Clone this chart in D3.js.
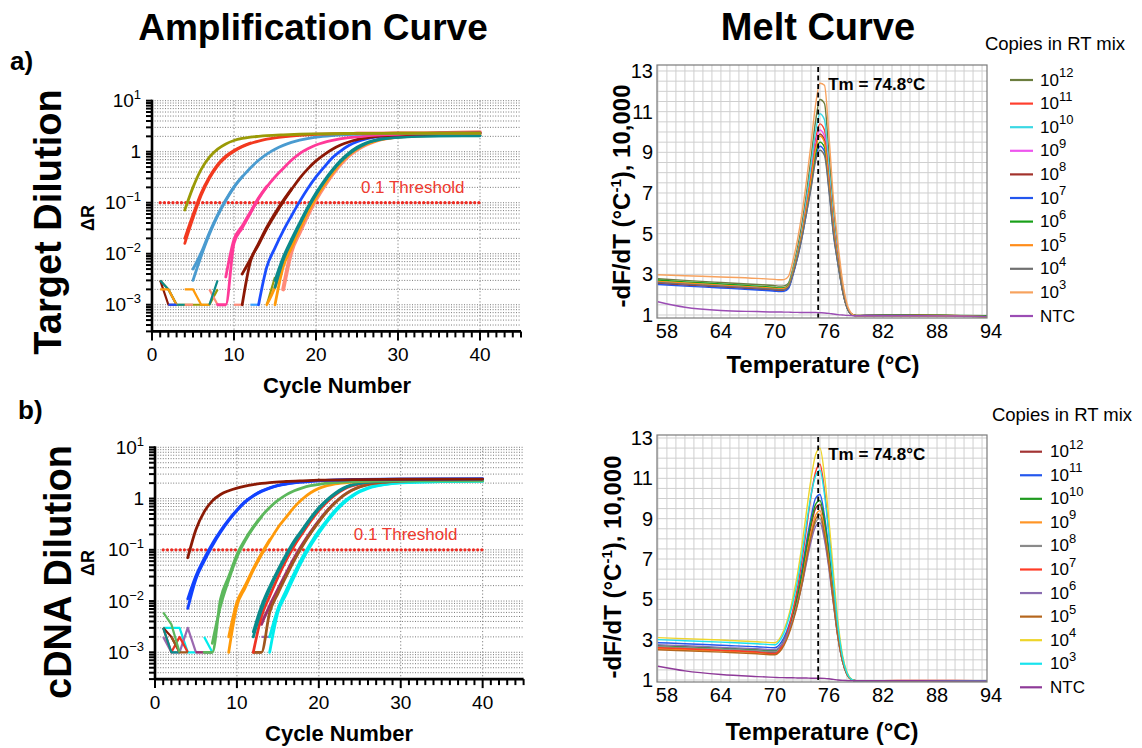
<!DOCTYPE html>
<html><head><meta charset="utf-8">
<script src="https://cdn.jsdelivr.net/npm/d3@7/dist/d3.min.js"></script>
<style>
html,body{margin:0;padding:0;background:#fff;}
svg{display:block;font-family:"Liberation Sans",Arial,Helvetica,sans-serif;}
</style></head>
<body><svg id="fig" width="1142" height="748"></svg>
<script>
// ---------------- data ----------------
const cycleTicks = [0, 10, 20, 30, 40];
const deltaRTicks = [10, 1, 0.1, 0.01, 0.001];
const deltaRTickLabels = [["10", "1"], ["1", ""], ["10", "\u22121"], ["10", "\u22122"], ["10", "\u22123"]];
const thresholdValue = 0.1;
const thresholdLabel = "0.1 Threshold";

// Target dilution amplification curves: [cycle, ΔR]
const targetCurves = [
  [[16,0.002],[17,0.011],[18,0.026],[19,0.057],[20,0.115],[21,0.21],[22,0.36],[23,0.57],[24,0.83],[25,1.1],[26,1.36],[27,1.58],[28,1.76],[30,2.0],[35,2.3],[40,2.4]],
  [[14,0.001],[15,0.0022],[16,0.0065],[17,0.015],[18,0.033],[19,0.07],[20,0.135],[21,0.24],[22,0.4],[23,0.62],[24,0.88],[25,1.15],[26,1.4],[27,1.6],[28,1.76],[30,1.95],[35,2.1],[40,2.12]],
  [[15,0.001],[16,0.0055],[17,0.013],[18,0.03],[19,0.064],[20,0.125],[21,0.225],[22,0.38],[23,0.6],[24,0.86],[25,1.13],[26,1.38],[27,1.58],[28,1.74],[30,1.94],[35,2.12],[40,2.15]],
  [[15,0.003],[16,0.0085],[17,0.019],[18,0.04],[19,0.082],[20,0.155],[21,0.27],[22,0.44],[23,0.67],[24,0.94],[25,1.22],[26,1.46],[27,1.65],[28,1.78],[30,1.93],[35,2.04],[40,2.05]],
  [[15,0.0022],[16,0.0075],[17,0.017],[18,0.037],[19,0.077],[20,0.145],[21,0.255],[22,0.42],[23,0.64],[24,0.9],[25,1.17],[26,1.42],[27,1.62],[28,1.76],[30,1.92],[35,2.05],[40,2.07]],
  [[13,0.001],[14,0.0055],[15,0.013],[16,0.028],[17,0.055],[18,0.105],[19,0.19],[20,0.32],[21,0.5],[22,0.76],[23,1.03],[24,1.32],[25,1.57],[26,1.77],[28,2.03],[30,2.17],[35,2.3],[40,2.33]],
  [[11,0.001],[12,0.007],[13,0.015],[14,0.031],[15,0.058],[16,0.105],[17,0.18],[18,0.3],[19,0.46],[20,0.66],[21,0.88],[22,1.12],[23,1.35],[24,1.55],[25,1.72],[27,1.95],[30,2.13],[35,2.27],[40,2.3]],
  [[11,0.004],[12,0.0078],[13,0.016],[14,0.033],[15,0.062],[16,0.11],[17,0.185]],
  [[8,0.001],[9,0.001],[10,0.016],[11,0.032],[12,0.062],[13,0.12],[14,0.205],[15,0.32],[16,0.47],[17,0.68],[18,0.92],[19,1.14],[20,1.35],[21,1.52],[22,1.66],[24,1.88],[26,2.03],[28,2.13],[30,2.2],[35,2.28],[40,2.3]],
  [[9,0.0035],[10,0.019],[11,0.035],[12,0.066],[13,0.125],[14,0.21]],
  [[5,0.003],[6,0.009],[7,0.024],[8,0.055],[9,0.11],[10,0.2],[11,0.32],[12,0.48],[13,0.68],[14,0.9],[15,1.12],[16,1.33],[17,1.52],[18,1.68],[20,1.93],[22,2.08],[25,2.2],[30,2.28],[40,2.3]],
  [[5,0.005],[6,0.0105],[7,0.026],[8,0.058],[9,0.114],[10,0.205],[11,0.325]],
  [[4,0.016],[5,0.05],[6,0.14],[7,0.3],[8,0.53],[9,0.78],[10,1.02],[11,1.25],[12,1.45],[13,1.62],[14,1.76],[15,1.87],[16,1.96],[18,2.1],[20,2.2],[25,2.3],[30,2.33],[40,2.35]],
  [[4,0.02],[5,0.058],[6,0.155],[7,0.32],[8,0.56],[9,0.82],[10,1.06],[11,1.28],[12,1.48]],
  [[4,0.072],[5,0.2],[6,0.45],[7,0.78],[8,1.12],[9,1.42],[10,1.66],[11,1.82],[12,1.93],[13,2.0],[14,2.06],[16,2.14],[18,2.2],[20,2.24],[25,2.28],[30,2.3],[40,2.3]]
];
const targetCurveColors = ["#ff8b78","#ff9a0a","#ff9a0a","#0b8a8a","#0b8a8a","#1b4dff","#8c1805","#8c1805","#ff3a98","#ff3a98","#4a9bd0","#4a9bd0","#f2391f","#f2391f","#9a9a06"];
const targetNoise = [
  [[1,0.003],[2,0.002],[3,0.001],[4,0.001],[5,0.001],[6,0.001],[7,0.001],[8,0.002]],
  [[1,0.003],[2,0.001],[3,0.001]],
  [[1,0.003],[2,0.002],[3,0.001],[4,0.001]],
  [[1,0.002],[2,0.002],[3,0.001]],
  [[4,0.002],[5,0.002],[6,0.001],[7,0.001]],
  [[2,0.001],[3,0.001]],
  [[4,0.001],[5,0.001]],
  [[7,0.002],[8,0.001]],
  [[7,0.001],[8,0.003]],
  [[10,0.001],[11,0.001]],
  [[12,0.001],[13,0.001]],
  [[14,0.001],[15,0.0035]]
];
const targetNoiseColors = ["#9a9a06","#8c1805","#0b8a8a","#ff9a0a","#ff9a0a","#1b4dff","#ff8b78","#ff8b78","#0b8a8a","#ff8b78","#3aa0ff","#9a9a06"];

// cDNA dilution amplification curves: [cycle, ΔR]
const cdnaCurves = [
  [[14,0.001],[15,0.006],[16,0.0135],[17,0.03],[18,0.063],[19,0.12],[20,0.21],[21,0.35],[22,0.55],[23,0.8],[24,1.08],[25,1.35],[26,1.58],[27,1.75],[28,1.87],[30,2.02],[35,2.15],[40,2.18]],
  [[14,0.002],[15,0.007],[16,0.016],[17,0.035],[18,0.072],[19,0.135],[20,0.235],[21,0.38],[22,0.59],[23,0.85],[24,1.12],[25,1.4],[26,1.62],[27,1.78],[28,1.9],[30,2.04],[35,2.15],[40,2.18]],
  [[13,0.004],[14,0.0075],[15,0.015],[16,0.032],[17,0.065],[18,0.122],[19,0.215],[20,0.36],[21,0.57],[22,0.84],[23,1.15],[24,1.45],[25,1.7],[26,1.88],[28,2.1],[30,2.22],[35,2.32],[40,2.35]],
  [[13,0.0035],[14,0.0082],[15,0.017],[16,0.035],[17,0.07],[18,0.13],[19,0.225],[20,0.37],[21,0.58],[22,0.85]],
  [[12,0.001],[13,0.001],[14,0.006],[15,0.014],[16,0.03],[17,0.062],[18,0.118],[19,0.21],[20,0.35],[21,0.56],[22,0.83],[23,1.14],[24,1.44],[25,1.69],[26,1.87],[28,2.08],[30,2.2],[35,2.3],[40,2.32]],
  [[12,0.001],[13,0.005],[14,0.0125],[15,0.029],[16,0.062],[17,0.12],[18,0.21],[19,0.36],[20,0.58],[21,0.86],[22,1.18],[23,1.5],[24,1.76],[25,1.93],[27,2.12],[30,2.25],[40,2.32]],
  [[12,0.0025],[13,0.008],[14,0.019],[15,0.04],[16,0.08],[17,0.15],[18,0.25],[19,0.42],[20,0.66],[21,0.95],[22,1.28],[23,1.6],[24,1.85],[25,2.0],[27,2.15],[30,2.25],[40,2.3]],
  [[12,0.002],[13,0.0068],[14,0.017],[15,0.037],[16,0.074],[17,0.14],[18,0.235],[19,0.4],[20,0.63],[21,0.92],[22,1.24],[23,1.56],[24,1.82],[25,1.98],[27,2.14],[30,2.25],[40,2.3]],
  [[9,0.001],[10,0.008],[11,0.018],[12,0.04],[13,0.08],[14,0.15],[15,0.27],[16,0.43],[17,0.68],[18,0.98],[19,1.3],[20,1.58],[21,1.78],[22,1.93],[24,2.1],[26,2.2],[30,2.28],[40,2.3]],
  [[9,0.002],[10,0.0095],[11,0.02],[12,0.043],[13,0.085],[14,0.158]],
  [[6,0.001],[7,0.001],[8,0.011],[9,0.03],[10,0.08],[11,0.16],[12,0.28],[13,0.45],[14,0.67],[15,0.92],[16,1.18],[17,1.42],[18,1.62],[19,1.78],[20,1.9],[22,2.05],[25,2.17],[30,2.22],[40,2.22]],
  [[7,0.0015],[8,0.008],[9,0.026],[10,0.072],[11,0.15],[12,0.27],[13,0.44]],
  [[4,0.0072],[5,0.027],[6,0.06],[7,0.12],[8,0.22],[9,0.37],[10,0.58],[11,0.85],[12,1.12],[13,1.38],[14,1.6],[15,1.78],[16,1.92],[18,2.1],[20,2.22],[25,2.35],[30,2.4],[40,2.42]],
  [[4,0.011],[5,0.031],[6,0.067],[7,0.132],[8,0.235],[9,0.39],[10,0.6],[11,0.87],[12,1.14],[13,1.4],[14,1.62],[15,1.8],[16,1.94],[18,2.12],[20,2.24],[25,2.36],[30,2.4],[40,2.42]],
  [[4,0.07],[5,0.25],[6,0.55],[7,0.9],[8,1.2],[9,1.42],[10,1.6],[11,1.75],[12,1.87],[13,1.97],[14,2.05],[16,2.15],[18,2.22],[20,2.28],[25,2.35],[30,2.38],[40,2.4]]
];
const cdnaCurveColors = ["#00eded","#00eded","#9b69b0","#a0306a","#a0561e","#ef3324","#0a8b8b","#0a8b8b","#ff9a0a","#ff9a0a","#5cb85c","#5cb85c","#1242ff","#1242ff","#8b1a05"];
const cdnaNoise = [
  [[1,0.003],[2,0.003],[3,0.003],[4,0.001],[5,0.001]],
  [[1,0.002],[2,0.001],[3,0.001],[4,0.003],[5,0.001],[6,0.001],[7,0.001]],
  [[1,0.003],[2,0.001],[3,0.002],[4,0.001]],
  [[1,0.003],[2,0.002],[3,0.001]],
  [[1,0.003],[2,0.001],[3,0.001]],
  [[2,0.002],[3,0.001],[4,0.001]],
  [[1,0.006],[2,0.0035],[3,0.001]],
  [[6,0.002],[7,0.001]],
  [[5,0.001],[6,0.001],[7,0.001]],
  [[12,0.001],[13,0.001]],
  [[13,0.002],[14,0.002]]
];
const cdnaNoiseColors = ["#00eded","#9b69b0","#ef3324","#8b1a05","#0a8b8b","#a0561e","#5cb85c","#00eded","#a0306a","#a0561e","#9b69b0"];

// Melt curves: -dF/dT sampled at these temperatures (°C)
const meltTemps = [57,60,64,68,70,70.5,71,71.5,72,72.5,73,73.5,74,74.5,75,75.5,76,76.5,77,77.5,78,78.5,79,82,86,90,93.5];
const tempTicks = [58, 64, 70, 76, 82, 88, 94];
const meltYTicks = [1, 3, 5, 7, 9, 11, 13];
const tmValue = 74.8;
const copyLabels = [["10","12"],["10","11"],["10","10"],["10","9"],["10","8"],["10","7"],["10","6"],["10","5"],["10","4"],["10","3"],["NTC",""]];

const targetMelt = [
  [2.78,2.7,2.6,2.5,2.44,2.42,2.43,2.57,3.32,4.3,5.5,7.0,8.7,10.5,11.6,11.4,8.9,6.2,4.2,2.5,1.45,1.05,0.96,0.97,0.96,0.95,0.92],
  [2.62,2.54,2.45,2.35,2.29,2.27,2.28,2.42,3.12,4.0,5.1,6.5,8.0,9.6,10.4,10.1,7.9,5.5,3.8,2.3,1.4,1.05,0.98,1.0,1.0,0.98,0.9],
  [2.68,2.6,2.5,2.4,2.34,2.32,2.33,2.47,3.2,4.1,5.2,6.7,8.3,10.0,10.9,10.6,8.2,5.7,3.9,2.35,1.4,1.04,0.96,0.97,0.97,0.96,0.93],
  [2.6,2.52,2.43,2.33,2.27,2.25,2.26,2.4,3.08,3.95,5.0,6.4,7.8,9.4,10.1,9.8,7.7,5.4,3.75,2.3,1.4,1.05,0.97,0.98,0.97,0.96,0.93],
  [2.55,2.47,2.38,2.28,2.22,2.2,2.21,2.35,3.03,3.9,4.95,6.3,7.7,9.2,9.9,9.6,7.6,5.3,3.7,2.25,1.38,1.04,0.97,0.98,0.98,0.97,0.94],
  [2.5,2.42,2.33,2.23,2.17,2.15,2.16,2.3,2.96,3.8,4.8,6.0,7.3,8.7,9.3,9.05,7.2,5.0,3.5,2.2,1.36,1.03,0.97,0.98,0.97,0.96,0.94],
  [2.72,2.63,2.53,2.42,2.35,2.33,2.34,2.47,3.1,3.95,4.95,6.2,7.5,8.9,9.5,9.25,7.4,5.15,3.6,2.25,1.38,1.04,0.98,0.99,0.99,0.98,0.96],
  [2.65,2.57,2.47,2.37,2.31,2.29,2.3,2.44,3.1,3.95,5.0,6.3,7.65,9.15,9.8,9.5,7.5,5.25,3.65,2.25,1.38,1.04,0.97,0.97,0.96,0.95,0.92],
  [2.6,2.52,2.42,2.32,2.26,2.24,2.25,2.38,3.0,3.82,4.8,6.0,7.2,8.55,9.1,8.85,7.1,4.95,3.5,2.2,1.36,1.03,0.96,0.96,0.95,0.94,0.91],
  [2.98,2.93,2.87,2.8,2.75,2.73,2.74,2.9,3.68,4.7,6.0,7.6,9.4,11.3,12.4,12.3,9.8,6.7,4.5,2.7,1.55,1.08,0.96,0.97,0.96,0.95,0.92],
  [1.65,1.38,1.22,1.17,1.15,1.15,1.14,1.14,1.13,1.13,1.12,1.12,1.12,1.12,1.11,1.1,1.08,1.05,1.02,1.0,0.98,0.97,0.96,0.96,0.96,0.95,0.93]
];
const targetMeltColors = ["#6b7d3e","#ff3f2e","#3cd8e4","#ee55ee","#a3322b","#2356ee","#18a018","#ff8c1a","#707070","#f7a25e","#9b4db4"];

const cdnaMelt = [
  [2.6,2.55,2.48,2.4,2.35,2.5,2.85,3.4,4.1,5.0,6.1,7.4,8.6,9.5,9.7,8.7,7.0,5.0,3.2,1.95,1.28,1.02,0.96,0.97,0.97,0.96,0.95],
  [2.85,2.8,2.72,2.65,2.6,2.75,3.1,3.65,4.4,5.35,6.5,7.85,9.05,10.0,10.2,9.15,7.4,5.3,3.35,2.02,1.3,1.02,0.96,0.96,0.97,0.96,0.95],
  [2.7,2.65,2.58,2.5,2.45,2.6,2.95,3.5,4.25,5.15,6.25,7.6,8.8,9.7,9.9,8.9,7.2,5.15,3.28,2.0,1.3,1.02,0.96,0.96,0.96,0.95,0.94],
  [2.55,2.5,2.43,2.36,2.3,2.44,2.78,3.3,4.0,4.85,5.9,7.15,8.3,9.15,9.4,8.45,6.85,4.95,3.15,1.95,1.28,1.02,0.96,0.97,0.97,0.96,0.95],
  [2.65,2.6,2.53,2.45,2.4,2.53,2.85,3.35,4.0,4.8,5.75,6.9,8.0,8.8,9.0,8.1,6.6,4.8,3.1,1.93,1.27,1.02,0.96,0.96,0.96,0.95,0.94],
  [2.6,2.55,2.47,2.38,2.3,2.48,2.9,3.55,4.45,5.55,6.95,8.5,10.1,11.3,11.7,10.4,8.3,5.85,3.6,2.1,1.33,1.03,0.96,0.97,0.98,0.98,0.96],
  [2.75,2.7,2.62,2.55,2.5,2.62,2.92,3.4,4.0,4.8,5.7,6.8,7.85,8.6,8.8,7.95,6.5,4.75,3.08,1.92,1.27,1.02,0.96,0.96,0.97,0.96,0.95],
  [2.5,2.45,2.38,2.3,2.25,2.39,2.72,3.22,3.9,4.72,5.75,6.98,8.1,8.95,9.2,8.25,6.7,4.85,3.12,1.94,1.28,1.02,0.96,0.96,0.96,0.95,0.94],
  [3.1,3.05,2.98,2.9,2.85,3.04,3.48,4.15,5.1,6.25,7.7,9.35,10.95,12.15,12.5,11.15,8.9,6.3,3.9,2.25,1.38,1.04,0.96,0.96,0.96,0.95,0.94],
  [3.0,2.95,2.88,2.8,2.75,2.93,3.33,3.98,4.85,5.9,7.25,8.75,10.15,11.1,11.4,10.2,8.15,5.8,3.65,2.15,1.35,1.03,0.96,0.97,0.97,0.97,0.96],
  [1.68,1.45,1.27,1.17,1.13,1.12,1.12,1.11,1.11,1.1,1.1,1.1,1.09,1.09,1.09,1.08,1.06,1.03,1.0,0.98,0.97,0.96,0.96,0.96,0.96,0.95,0.95]
];
const cdnaMeltColors = ["#a33434","#2457ee","#1f9a1f","#ff9526","#8a8a8a","#ff3b26","#8a6cb0","#b5661d","#eed52a","#18e3ee","#8e3a99"];

// ---------------- drawing ----------------
const svg = d3.select("#fig");

function superLabel(textSel, base, exp, expSize, rise) {
  textSel.append("tspan").text(base);
  if (exp) textSel.append("tspan").attr("font-size", expSize).attr("dy", -rise).text(exp);
}

function drawAmplification(cfg, curves, curveColors, noise, noiseColors) {
  const g = svg.append("g");
  const x = d3.scaleLinear().domain([0, 45]).range([cfg.left, cfg.right]);
  const y = d3.scaleLog().domain([3e-4, 10]).range([cfg.bottom, cfg.top]);
  const minor = y.ticks();

  // dotted grid
  g.append("g").selectAll("line").data(minor).join("line")
    .attr("x1", x(0)).attr("x2", x(45))
    .attr("y1", d => y(d)).attr("y2", d => y(d))
    .attr("stroke", "#6a6a6a").attr("stroke-width", 0.9).attr("stroke-dasharray", "1,1.6");
  g.append("g").selectAll("line").data(cycleTicks.filter(d => d > 0)).join("line")
    .attr("x1", d => x(d)).attr("x2", d => x(d))
    .attr("y1", y(10)).attr("y2", y(3e-4))
    .attr("stroke", "#808080").attr("stroke-width", 1).attr("stroke-dasharray", "1.2,2.2");

  // axes
  g.append("g").selectAll("line").data(minor).join("line")
    .attr("x1", x(0)).attr("x2", x(0) - 6)
    .attr("y1", d => y(d)).attr("y2", d => y(d))
    .attr("stroke", "#000").attr("stroke-width", 2);
  g.append("g").selectAll("line").data(d3.range(0, 46)).join("line")
    .attr("x1", d => x(d)).attr("x2", d => x(d))
    .attr("y1", y(3e-4)).attr("y2", d => y(3e-4) + (d % 10 === 0 ? 9 : 6))
    .attr("stroke", "#000").attr("stroke-width", 2);
  g.append("line").attr("x1", x(0)).attr("x2", x(0)).attr("y1", y(10) - 1).attr("y2", y(3e-4) + 1)
    .attr("stroke", "#000").attr("stroke-width", 2.6);
  g.append("line").attr("x1", x(0) - 1).attr("x2", x(45)).attr("y1", y(3e-4)).attr("y2", y(3e-4))
    .attr("stroke", "#000").attr("stroke-width", 2.6);

  // tick labels
  g.append("g").selectAll("text").data(cycleTicks).join("text")
    .attr("x", d => x(d)).attr("y", y(3e-4) + 29.5)
    .attr("text-anchor", "middle").attr("font-size", 19).text(d => d);
  deltaRTicks.forEach((v, i) => {
    const t = g.append("text").attr("x", x(0) - 11).attr("y", y(v) + 6.5)
      .attr("text-anchor", "end").attr("font-size", 19);
    superLabel(t, deltaRTickLabels[i][0], deltaRTickLabels[i][1], 13, 8);
  });

  // threshold
  g.append("line").attr("x1", x(1)).attr("x2", x(40))
    .attr("y1", y(thresholdValue)).attr("y2", y(thresholdValue))
    .attr("stroke", "#ee2b22").attr("stroke-width", 3.3)
    .attr("stroke-linecap", "round").attr("stroke-dasharray", "0,4.25");
  g.append("text").attr("x", x(cfg.thLabelCycle)).attr("y", y(thresholdValue) - 10)
    .attr("text-anchor", "middle").attr("font-size", 17).attr("fill", "#ee3a30").text(thresholdLabel);

  // curves
  const lin = d3.line().x(d => x(d[0])).y(d => y(d[1]));
  const smooth = d3.line().x(d => x(d[0])).y(d => y(d[1])).curve(d3.curveMonotoneX);
  g.append("g").selectAll("path").data(noise).join("path")
    .attr("d", lin).attr("fill", "none")
    .attr("stroke", (d, i) => noiseColors[i]).attr("stroke-width", 2.2).attr("stroke-linejoin", "round");
  g.append("g").selectAll("path").data(curves).join("path")
    .attr("d", smooth).attr("fill", "none")
    .attr("stroke", (d, i) => curveColors[i])
    .attr("stroke-width", (d, i) => curveColors[i] === "#ff8b78" ? 4 : 2.8)
    .attr("stroke-linecap", "round");

  // axis titles
  g.append("text").attr("x", cfg.cycleTitleX).attr("y", cfg.cycleTitleY)
    .attr("text-anchor", "middle").attr("font-size", 22).attr("font-weight", "bold").text("Cycle Number");
  g.append("text").attr("transform", `translate(${cfg.drX},${cfg.drY}) rotate(-90)`)
    .attr("text-anchor", "middle").attr("dominant-baseline", "central")
    .attr("font-size", 18).attr("font-weight", "bold").text("\u0394R");
}

function drawMelt(cfg, series, colors) {
  const g = svg.append("g");
  const x = d3.scaleLinear().domain([56.9, 93.55]).range([cfg.left, cfg.right]);
  const y = d3.scaleLinear().domain(cfg.yDomain).range([cfg.bottom, cfg.top]);

  g.append("rect").attr("x", cfg.left).attr("y", cfg.top)
    .attr("width", cfg.right - cfg.left).attr("height", cfg.bottom - cfg.top).attr("fill", "#fff");
  g.append("g").selectAll("line").data(d3.range(1, 13.01, 0.5)).join("line")
    .attr("x1", cfg.left).attr("x2", cfg.right).attr("y1", d => y(d)).attr("y2", d => y(d))
    .attr("stroke", "#cfcfcf").attr("stroke-width", 1);
  g.append("g").selectAll("line").data(d3.range(57, 94, 1)).join("line")
    .attr("x1", d => x(d)).attr("x2", d => x(d)).attr("y1", cfg.top).attr("y2", cfg.bottom)
    .attr("stroke", "#cfcfcf").attr("stroke-width", 1);

  const line = d3.line().x((d, i) => x(meltTemps[i])).y(d => y(d)).curve(d3.curveMonotoneX);
  g.append("g").selectAll("path").data(series).join("path")
    .attr("d", line).attr("fill", "none")
    .attr("stroke", (d, i) => colors[i]).attr("stroke-width", 1.4);

  // Tm marker
  g.append("line").attr("x1", x(tmValue)).attr("x2", x(tmValue)).attr("y1", cfg.top + 2).attr("y2", cfg.bottom)
    .attr("stroke", "#000").attr("stroke-width", 1.8).attr("stroke-dasharray", "5,3.5");
  g.append("text").attr("x", x(tmValue) + 10).attr("y", cfg.tmLabelY)
    .attr("font-size", 17).attr("font-weight", "bold").text(`Tm = ${tmValue}\u00B0C`);

  g.append("rect").attr("x", cfg.left).attr("y", cfg.top)
    .attr("width", cfg.right - cfg.left).attr("height", cfg.bottom - cfg.top)
    .attr("fill", "none").attr("stroke", "#7a7a7a").attr("stroke-width", 1.2);

  g.append("g").selectAll("text").data(tempTicks).join("text")
    .attr("x", d => x(d)).attr("y", cfg.bottom + 20)
    .attr("text-anchor", "middle").attr("font-size", 20).text(d => d);
  g.append("g").selectAll("text").data(meltYTicks).join("text")
    .attr("x", cfg.left - 4).attr("y", d => y(d) + 7)
    .attr("text-anchor", "end").attr("font-size", 20).text(d => d);

  g.append("text").attr("x", cfg.xTitleX).attr("y", cfg.xTitleY)
    .attr("text-anchor", "middle").attr("font-size", 24).attr("font-weight", "bold").text("Temperature (\u00B0C)");
  const yl = g.append("text").attr("transform", `translate(${cfg.yTitleX},${cfg.yTitleY}) rotate(-90)`)
    .attr("text-anchor", "middle").attr("font-size", 24).attr("font-weight", "bold");
  yl.append("tspan").text("-dF/dT (\u00B0C");
  yl.append("tspan").attr("font-size", 15).attr("dy", -9).text("-1");
  yl.append("tspan").attr("dy", 9).text("), 10,000");
}

function drawLegend(cfg, colors) {
  const g = svg.append("g");
  g.append("text").attr("x", cfg.titleX).attr("y", cfg.titleY)
    .attr("text-anchor", "middle").attr("font-size", 18.5).text("Copies in RT mix");
  copyLabels.forEach((lab, i) => {
    const yy = cfg.y0 + i * cfg.step;
    g.append("line").attr("x1", cfg.lx1).attr("x2", cfg.lx2).attr("y1", yy).attr("y2", yy)
      .attr("stroke", colors[i]).attr("stroke-width", 2.2);
    const t = g.append("text").attr("x", cfg.tx).attr("y", yy + 5.5).attr("font-size", 17);
    superLabel(t, lab[0], lab[1], 13, 8.5);
  });
}

// titles and row labels
svg.append("text").attr("x", 313).attr("y", 40).attr("text-anchor", "middle")
  .attr("font-size", 37).attr("font-weight", "bold").text("Amplification Curve");
svg.append("text").attr("x", 818).attr("y", 40).attr("text-anchor", "middle")
  .attr("font-size", 38).attr("font-weight", "bold").text("Melt Curve");
svg.append("text").attr("x", 10).attr("y", 70).attr("font-size", 26).attr("font-weight", "bold").text("a)");
svg.append("text").attr("x", 18).attr("y", 419).attr("font-size", 26).attr("font-weight", "bold").text("b)");
svg.append("text").attr("transform", "translate(61,222) rotate(-90)").attr("text-anchor", "middle")
  .attr("font-size", 38).attr("font-weight", "bold").text("Target Dilution");
svg.append("text").attr("transform", "translate(71,572) rotate(-90)").attr("text-anchor", "middle")
  .attr("font-size", 38).attr("font-weight", "bold").text("cDNA Dilution");

drawAmplification({left: 152, right: 521, top: 100.7, bottom: 331.4, thLabelCycle: 31.8,
  cycleTitleX: 337, cycleTitleY: 393, drX: 88, drY: 218}, targetCurves, targetCurveColors, targetNoise, targetNoiseColors);
drawAmplification({left: 155, right: 523.6, top: 447.3, bottom: 679.1, thLabelCycle: 30.6,
  cycleTitleX: 339, cycleTitleY: 741, drX: 88, drY: 563}, cdnaCurves, cdnaCurveColors, cdnaNoise, cdnaNoiseColors);

drawMelt({left: 657, right: 987, top: 65, bottom: 318, yDomain: [0.852, 13.295], tmLabelY: 90,
  xTitleX: 823, xTitleY: 373, yTitleX: 630, yTitleY: 196}, targetMelt, targetMeltColors);
drawMelt({left: 657, right: 987, top: 435, bottom: 682, yDomain: [0.901, 13.149], tmLabelY: 460,
  xTitleX: 822, xTitleY: 740, yTitleX: 621, yTitleY: 567}, cdnaMelt, cdnaMeltColors);

drawLegend({titleX: 1055, titleY: 50, y0: 80, step: 23.6, lx1: 1010, lx2: 1033, tx: 1040}, targetMeltColors);
drawLegend({titleX: 1062, titleY: 421, y0: 451.7, step: 23.56, lx1: 1020, lx2: 1042, tx: 1050}, cdnaMeltColors);
</script></body></html>
